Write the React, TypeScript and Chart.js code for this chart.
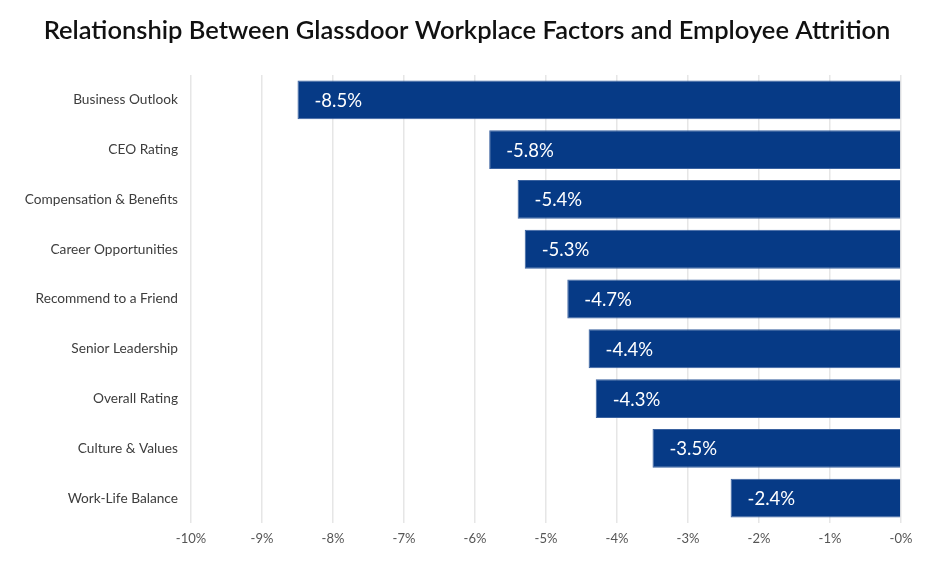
import React, { useEffect, useRef } from "react";
import { Chart, registerables } from "chart.js";

Chart.register(...registerables);

const categories = [
  "Business Outlook",
  "CEO Rating",
  "Compensation & Benefits",
  "Career Opportunities",
  "Recommend to a Friend",
  "Senior Leadership",
  "Overall Rating",
  "Culture & Values",
  "Work-Life Balance",
];
const values = [-8.5, -5.8, -5.4, -5.3, -4.7, -4.4, -4.3, -3.5, -2.4];
const tickValues = [-10, -9, -8, -7, -6, -5, -4, -3, -2, -1, 0];
const titleText = "Relationship Between Glassdoor Workplace Factors and Employee Attrition";

const FONT = "Lato, 'Noto Sans', sans-serif";

const barLabels = {
  id: "barLabels",
  afterDatasetsDraw(chart: any) {
    const ctx = chart.ctx;
    const meta = chart.getDatasetMeta(0);
    ctx.save();
    ctx.fillStyle = "#ffffff";
    ctx.font = `18.5px ${FONT}`;
    ctx.textAlign = "left";
    ctx.textBaseline = "middle";
    meta.data.forEach((el: any, i: number) => {
      ctx.fillText(values[i].toFixed(1) + "%", el.x + 17, el.y + 1);
    });
    ctx.restore();
  },
};

const centeredTitle = {
  id: "centeredTitle",
  afterDraw(chart: any) {
    const ctx = chart.ctx;
    ctx.save();
    ctx.fillStyle = "#111111";
    ctx.font = `600 25.5px ${FONT}`;
    ctx.textAlign = "center";
    ctx.textBaseline = "middle";
    ctx.fillText(titleText, chart.width / 2, 31);
    ctx.restore();
  },
};

export default function App() {
  const ref = useRef<HTMLCanvasElement>(null);
  useEffect(() => {
    document.body.style.margin = "0";
    const chart = new Chart(ref.current!, {
      type: "bar",
      data: {
        labels: categories,
        datasets: [
          {
            data: values,
            backgroundColor: "#063a86",
            borderColor: "#3a62a0",
            borderWidth: 1,
            barPercentage: 0.78,
            categoryPercentage: 1,
          },
        ],
      },
      options: {
        indexAxis: "y",
        animation: false,
        responsive: false,
        maintainAspectRatio: false,
        layout: { padding: { left: 0, right: 33, top: 75, bottom: 0 } },
        plugins: {
          legend: { display: false },
          tooltip: { enabled: false },
          title: { display: false },
        },
        scales: {
          x: {
            min: -10,
            max: 0,
            afterBuildTicks: (scale: any) => {
              scale.ticks = tickValues.map((v) => ({ value: v }));
            },
            afterFit: (scale: any) => {
              scale.height = 45;
            },
            grid: { color: "#e6e6e6", lineWidth: 1.5, drawTicks: false },
            border: { display: false },
            ticks: {
              color: "#555555",
              padding: 8,
              font: { family: FONT, size: 13 },
              callback: (v: any) => (Number(v) === 0 ? "-0%" : `${v}%`),
            },
          },
          y: {
            afterFit: (scale: any) => {
              scale.width = 191;
            },
            grid: { display: false },
            border: { display: false },
            ticks: {
              color: "#3d3d3d",
              padding: 5,
              font: { family: FONT, size: 13.7 },
            },
          },
        },
      },
      plugins: [barLabels, centeredTitle],
    });
    return () => chart.destroy();
  }, []);
  return (
    <div style={{ width: 934, height: 568, background: "#ffffff" }}>
      <canvas ref={ref} width={934} height={568} style={{ width: 934, height: 568 }} />
    </div>
  );
}
